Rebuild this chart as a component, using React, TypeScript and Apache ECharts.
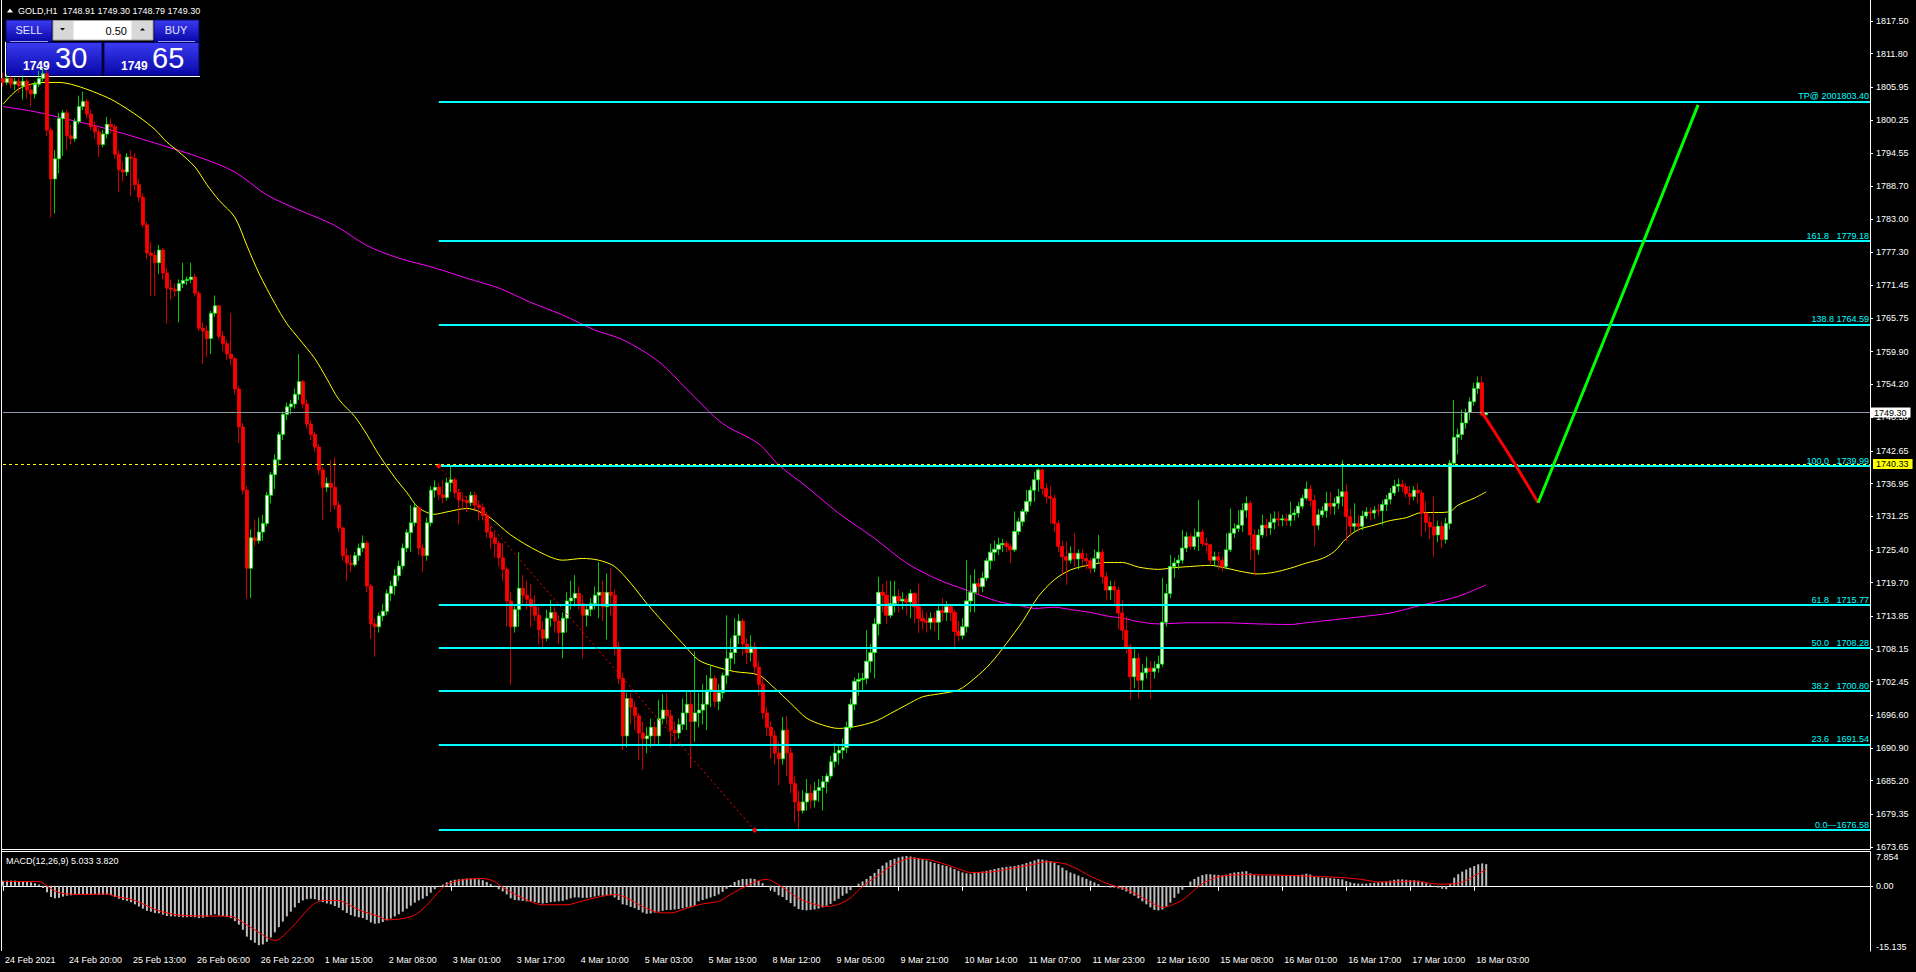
import React, { useEffect, useRef } from 'react';
import * as echarts from 'echarts';

const N_SLOTS = 468;
const FONT = "'Liberation Sans', Arial, sans-serif";

const timeLabels = ['24 Feb 2021', '24 Feb 20:00', '25 Feb 13:00', '26 Feb 06:00', '26 Feb 22:00', '1 Mar 15:00', '2 Mar 08:00', '3 Mar 01:00', '3 Mar 17:00', '4 Mar 10:00', '5 Mar 03:00', '5 Mar 19:00', '8 Mar 12:00', '9 Mar 05:00', '9 Mar 21:00', '10 Mar 14:00', '11 Mar 07:00', '11 Mar 23:00', '12 Mar 16:00', '15 Mar 08:00', '16 Mar 01:00', '16 Mar 17:00', '17 Mar 10:00', '18 Mar 03:00'];

const priceTicks = [1817.5, 1811.8, 1805.95, 1800.25, 1794.55, 1788.7, 1783.0, 1777.3, 1771.45, 1765.75, 1759.9, 1754.2, 1748.5, 1742.65, 1736.95, 1731.25, 1725.4, 1719.7, 1713.85, 1708.15, 1702.45, 1696.6, 1690.9, 1685.2, 1679.35, 1673.65];
const macdTicks = [-15.135, 0, 7.854];

// [open, close, low, high]
const candles = [
[1807.5,1806.8,1806.0,1808.5],[1806.8,1807.5,1806.3,1808.2],[1807.5,1806.5,1805.8,1807.9],[1806.5,1807.0,1805.5,1807.6],[1807.0,1806.2,1805.0,1807.5],[1806.2,1807.0,1803.8,1808.0],[1807.0,1805.5,1804.0,1807.5],[1805.5,1804.8,1802.6,1806.5],[1804.8,1806.5,1804.0,1807.0],[1806.5,1807.5,1806.0,1808.8],
[1807.5,1808.3,1807.0,1809.2],[1808.3,1798.5,1797.5,1808.8],[1798.5,1790.0,1783.3,1799.0],[1790.0,1793.5,1784.0,1795.0],[1793.5,1800.5,1791.0,1801.5],[1800.5,1801.5,1794.0,1802.0],[1801.5,1797.5,1795.0,1802.0],[1797.5,1797.0,1796.0,1799.5],[1797.0,1800.0,1796.5,1800.5],[1800.0,1802.6,1799.5,1804.5],
[1802.6,1803.5,1802.0,1805.2],[1803.5,1801.3,1800.5,1804.0],[1801.3,1799.1,1798.5,1802.0],[1799.1,1798.2,1797.0,1800.0],[1798.2,1796.0,1793.8,1798.8],[1796.0,1797.8,1795.5,1798.5],[1797.8,1799.5,1797.0,1800.8],[1799.5,1799.1,1798.0,1800.5],[1799.1,1794.3,1793.5,1799.5],[1794.3,1791.6,1787.7,1795.0],
[1791.6,1791.2,1789.5,1793.0],[1791.2,1793.8,1790.5,1794.5],[1793.8,1793.6,1787.0,1795.0],[1793.6,1789.0,1788.0,1794.5],[1789.0,1786.8,1786.0,1790.0],[1786.8,1782.0,1781.5,1787.5],[1782.0,1777.1,1776.0,1782.5],[1777.1,1776.7,1769.6,1779.0],[1776.7,1775.4,1769.6,1777.5],[1775.4,1777.6,1773.5,1778.5],
[1777.6,1773.6,1772.5,1778.0],[1773.6,1771.0,1764.8,1774.5],[1771.0,1770.8,1769.0,1772.5],[1770.8,1770.5,1769.5,1771.8],[1770.5,1771.8,1765.0,1772.5],[1771.8,1772.3,1771.0,1775.4],[1772.3,1772.5,1771.5,1773.0],[1772.5,1772.9,1771.8,1775.4],[1772.9,1770.1,1769.5,1773.5],[1770.1,1764.0,1763.5,1770.5],
[1764.0,1763.5,1757.8,1765.0],[1763.5,1762.2,1759.0,1764.5],[1762.2,1766.6,1759.5,1767.0],[1766.6,1767.9,1766.0,1769.7],[1767.9,1762.6,1762.0,1768.0],[1762.6,1761.3,1760.0,1763.5],[1761.3,1759.5,1758.5,1762.0],[1759.5,1758.7,1757.5,1766.6],[1758.7,1753.4,1752.5,1759.0],[1753.4,1746.8,1744.0,1754.0],
[1746.8,1735.8,1735.0,1747.5],[1735.8,1722.2,1716.9,1736.5],[1722.2,1727.5,1717.0,1729.0],[1727.5,1727.0,1726.0,1730.7],[1727.0,1728.5,1726.5,1731.0],[1728.5,1730.0,1727.0,1731.5],[1730.0,1734.9,1729.5,1735.5],[1734.9,1738.5,1733.5,1739.0],[1738.5,1741.1,1736.0,1742.0],[1741.1,1745.5,1740.0,1746.0],
[1745.5,1749.0,1744.5,1749.5],[1749.0,1750.3,1748.0,1751.0],[1750.3,1750.8,1749.0,1751.5],[1750.8,1752.5,1750.0,1753.5],[1752.5,1754.7,1751.5,1759.5],[1754.7,1750.8,1750.0,1755.0],[1750.8,1747.3,1746.5,1751.6],[1747.3,1745.5,1744.5,1748.0],[1745.5,1743.3,1742.5,1746.0],[1743.3,1739.3,1738.5,1743.8],
[1739.3,1736.3,1730.6,1739.8],[1736.3,1737.0,1735.5,1738.0],[1737.0,1736.3,1732.0,1741.0],[1736.3,1733.2,1732.5,1741.5],[1733.2,1729.2,1728.5,1733.8],[1729.2,1724.4,1723.5,1729.5],[1724.4,1723.1,1720.0,1725.7],[1723.1,1722.8,1721.5,1724.5],[1722.8,1724.4,1722.5,1725.0],[1724.4,1725.7,1723.5,1726.5],
[1725.7,1726.6,1725.0,1727.9],[1726.6,1719.1,1718.0,1727.0],[1719.1,1712.5,1709.9,1719.5],[1712.5,1712.0,1706.8,1713.5],[1712.0,1713.9,1711.0,1714.5],[1713.9,1714.7,1713.0,1716.0],[1714.7,1717.8,1714.0,1718.5],[1717.8,1719.1,1716.5,1720.0],[1719.1,1720.9,1717.5,1722.0],[1720.9,1722.6,1720.0,1723.5],
[1722.6,1725.7,1722.0,1726.5],[1725.7,1728.4,1725.0,1729.0],[1728.4,1730.1,1725.0,1733.2],[1730.1,1732.8,1729.5,1733.5],[1732.8,1725.7,1724.5,1733.0],[1725.7,1724.4,1721.5,1726.5],[1724.4,1730.1,1723.5,1731.0],[1730.1,1735.8,1729.5,1736.5],[1735.8,1736.3,1734.5,1737.5],[1736.3,1735.0,1734.0,1737.0],
[1735.0,1734.5,1733.5,1737.5],[1734.5,1737.1,1734.0,1738.0],[1737.1,1737.6,1735.5,1740.0],[1737.6,1735.4,1734.5,1738.0],[1735.4,1734.1,1729.8,1736.0],[1734.1,1734.0,1732.5,1735.0],[1734.0,1733.6,1732.0,1734.8],[1733.6,1734.9,1733.0,1735.5],[1734.9,1733.2,1732.5,1735.5],[1733.2,1732.8,1730.5,1734.0],
[1732.8,1731.4,1730.5,1733.5],[1731.4,1728.5,1727.5,1732.0],[1728.5,1727.5,1725.5,1729.5],[1727.5,1726.5,1724.0,1728.5],[1726.5,1724.0,1722.5,1727.0],[1724.0,1722.0,1720.0,1726.5],[1722.0,1716.5,1712.0,1722.5],[1716.5,1712.0,1701.9,1718.0],[1712.0,1715.0,1711.0,1716.0],[1715.0,1718.7,1712.0,1725.0],
[1718.7,1717.5,1716.0,1721.0],[1717.5,1716.8,1715.0,1720.0],[1716.8,1715.5,1712.0,1719.5],[1715.5,1714.0,1713.0,1717.5],[1714.0,1711.5,1709.0,1715.5],[1711.5,1710.0,1708.3,1713.0],[1710.0,1713.5,1709.5,1715.0],[1713.5,1714.5,1712.0,1716.7],[1714.5,1713.0,1711.0,1715.5],[1713.0,1711.0,1709.0,1714.0],
[1711.0,1713.5,1706.5,1714.5],[1713.5,1716.5,1711.0,1718.0],[1716.5,1717.0,1715.0,1720.0],[1717.0,1717.8,1715.5,1721.0],[1717.8,1716.0,1715.0,1719.0],[1716.0,1714.0,1706.5,1717.5],[1714.0,1715.0,1712.0,1716.0],[1715.0,1716.0,1713.8,1717.0],[1716.0,1717.5,1715.0,1719.0],[1717.5,1718.0,1713.5,1723.3],
[1718.0,1715.5,1713.0,1720.0],[1715.5,1718.0,1709.8,1721.3],[1718.0,1717.5,1714.0,1722.2],[1717.5,1708.5,1707.0,1718.5],[1708.5,1703.0,1702.0,1709.5],[1703.0,1693.0,1690.5,1704.0],[1693.0,1699.5,1691.0,1700.5],[1699.5,1698.0,1695.0,1700.5],[1698.0,1696.5,1694.0,1699.0],[1696.5,1693.5,1688.8,1697.0],
[1693.5,1692.5,1687.1,1695.5],[1692.5,1693.0,1690.0,1694.5],[1693.0,1694.5,1691.0,1696.0],[1694.5,1693.0,1691.5,1695.5],[1693.0,1696.0,1691.5,1699.3],[1696.0,1697.5,1695.0,1700.3],[1697.5,1696.5,1695.0,1700.3],[1696.5,1694.0,1691.0,1697.5],[1694.0,1693.5,1692.0,1695.5],[1693.5,1695.0,1692.5,1696.0],
[1695.0,1697.0,1694.0,1699.5],[1697.0,1698.5,1694.0,1700.7],[1698.5,1695.5,1687.4,1700.7],[1695.5,1697.0,1692.0,1707.7],[1697.0,1697.5,1694.5,1700.5],[1697.5,1698.5,1695.0,1702.0],[1698.5,1701.0,1694.0,1703.6],[1701.0,1703.0,1698.0,1705.3],[1703.0,1699.0,1698.0,1703.5],[1699.0,1700.5,1697.5,1702.0],
[1700.5,1703.5,1699.5,1704.0],[1703.5,1706.5,1702.0,1714.0],[1706.5,1707.5,1704.5,1710.0],[1707.5,1710.5,1705.5,1713.5],[1710.5,1713.0,1709.0,1714.2],[1713.0,1709.0,1707.0,1713.5],[1709.0,1707.5,1705.5,1710.0],[1707.5,1708.5,1706.0,1710.5],[1708.5,1705.0,1703.8,1709.3],[1705.0,1702.0,1700.0,1706.0],
[1702.0,1697.0,1696.0,1703.0],[1697.0,1694.5,1693.0,1698.0],[1694.5,1693.0,1689.0,1695.5],[1693.0,1690.0,1688.0,1694.0],[1690.0,1689.0,1684.4,1692.0],[1689.0,1694.0,1688.0,1696.3],[1694.0,1690.0,1686.0,1696.5],[1690.0,1684.7,1683.0,1691.0],[1684.7,1681.5,1678.0,1686.0],[1681.5,1680.0,1676.6,1683.5],
[1680.0,1681.5,1679.5,1683.5],[1681.5,1683.0,1680.0,1685.5],[1683.0,1681.8,1680.3,1684.5],[1681.8,1683.5,1680.5,1685.0],[1683.5,1684.0,1681.5,1685.5],[1684.0,1685.0,1680.0,1686.0],[1685.0,1686.0,1683.0,1686.5],[1686.0,1688.5,1685.5,1689.5],[1688.5,1690.0,1687.5,1691.7],[1690.0,1690.5,1688.0,1691.5],
[1690.5,1691.0,1689.0,1692.5],[1691.0,1694.5,1690.0,1695.5],[1694.5,1698.5,1694.0,1699.5],[1698.5,1702.5,1697.5,1703.2],[1702.5,1702.8,1700.0,1704.0],[1702.8,1703.0,1701.0,1704.0],[1703.0,1706.0,1702.0,1711.4],[1706.0,1707.5,1704.0,1709.0],[1707.5,1712.5,1703.0,1713.5],[1712.5,1718.0,1710.5,1720.7],
[1718.0,1717.5,1714.5,1719.5],[1717.5,1714.0,1712.5,1720.0],[1714.0,1716.0,1713.5,1720.0],[1716.0,1717.3,1714.5,1720.0],[1717.3,1716.5,1714.5,1718.5],[1716.5,1716.8,1715.0,1718.0],[1716.8,1716.3,1714.0,1717.5],[1716.3,1717.8,1713.5,1718.5],[1717.8,1715.5,1712.6,1718.0],[1715.5,1713.5,1710.9,1719.6],
[1713.5,1713.0,1711.5,1715.0],[1713.0,1712.8,1711.0,1714.5],[1712.8,1713.5,1711.5,1714.5],[1713.5,1712.8,1711.2,1714.5],[1712.8,1714.8,1709.7,1716.0],[1714.8,1714.5,1713.0,1717.0],[1714.5,1715.5,1713.0,1716.5],[1715.5,1714.5,1713.0,1716.0],[1714.5,1711.2,1708.0,1715.0],[1711.2,1710.5,1709.5,1713.0],
[1710.5,1712.0,1709.8,1713.5],[1712.0,1716.5,1711.0,1723.6],[1716.5,1718.0,1714.5,1721.0],[1718.0,1719.5,1714.5,1722.0],[1719.5,1719.0,1717.5,1720.5],[1719.0,1720.5,1718.0,1721.5],[1720.5,1723.5,1720.0,1724.0],[1723.5,1725.0,1722.0,1726.5],[1725.0,1725.5,1723.5,1727.0],[1725.5,1726.3,1724.5,1727.5],
[1726.3,1726.5,1725.0,1727.3],[1726.5,1726.0,1725.0,1727.0],[1726.0,1725.4,1723.1,1726.5],[1725.4,1728.6,1725.0,1732.1],[1728.6,1730.3,1728.0,1731.0],[1730.3,1732.1,1729.5,1732.5],[1732.1,1733.8,1731.5,1735.8],[1733.8,1735.8,1733.0,1736.5],[1735.8,1737.6,1733.8,1739.0],[1737.6,1739.3,1735.5,1739.6],
[1739.3,1736.1,1735.0,1739.6],[1736.1,1734.7,1733.5,1737.0],[1734.7,1734.4,1730.0,1736.5],[1734.4,1730.0,1728.5,1735.0],[1730.0,1726.0,1725.0,1730.5],[1726.0,1724.2,1721.0,1727.0],[1724.2,1723.6,1719.3,1726.8],[1723.6,1724.8,1723.0,1726.0],[1724.8,1723.8,1722.5,1728.3],[1723.8,1724.8,1722.0,1725.5],
[1724.8,1723.9,1722.5,1725.5],[1723.9,1723.5,1722.0,1724.8],[1723.5,1722.2,1721.3,1724.0],[1722.2,1723.9,1721.5,1725.5],[1723.9,1725.0,1723.0,1728.0],[1725.0,1720.7,1719.5,1725.5],[1720.7,1718.4,1716.7,1721.5],[1718.4,1719.0,1716.7,1720.0],[1719.0,1718.4,1716.0,1720.0],[1718.4,1714.4,1711.5,1719.0],
[1714.4,1711.4,1709.7,1716.7],[1711.4,1708.5,1707.4,1713.8],[1708.5,1703.3,1699.3,1709.0],[1703.3,1706.5,1701.3,1708.5],[1706.5,1702.7,1699.5,1707.4],[1702.7,1704.0,1701.0,1705.5],[1704.0,1704.8,1703.0,1706.8],[1704.8,1704.2,1699.5,1706.0],[1704.2,1704.8,1703.0,1706.0],[1704.8,1705.5,1704.0,1707.0],
[1705.5,1712.8,1705.0,1720.5],[1712.8,1717.8,1712.0,1719.5],[1717.8,1722.5,1717.0,1724.5],[1722.5,1723.1,1720.5,1724.0],[1723.1,1723.6,1722.0,1724.5],[1723.6,1725.7,1723.0,1728.9],[1725.7,1727.7,1725.0,1728.5],[1727.7,1726.0,1725.5,1728.3],[1726.0,1727.7,1725.4,1729.1],[1727.7,1728.5,1725.2,1734.1],
[1728.5,1726.5,1726.0,1729.0],[1726.5,1726.3,1724.8,1727.5],[1726.3,1723.6,1723.0,1726.5],[1723.6,1724.2,1722.5,1725.1],[1724.2,1723.6,1722.0,1725.0],[1723.6,1722.5,1721.6,1724.2],[1722.5,1725.4,1722.0,1728.3],[1725.4,1728.3,1725.0,1732.6],[1728.3,1729.1,1727.5,1730.0],[1729.1,1729.7,1728.5,1732.3],
[1729.7,1732.3,1728.5,1733.5],[1732.3,1733.5,1731.0,1734.7],[1733.5,1728.0,1723.6,1734.0],[1728.0,1725.4,1721.0,1729.0],[1725.4,1728.0,1724.5,1729.0],[1728.0,1729.7,1727.5,1731.5],[1729.7,1729.2,1727.7,1730.8],[1729.2,1730.2,1728.0,1731.7],[1730.2,1730.8,1729.0,1732.1],[1730.8,1730.6,1729.5,1732.1],
[1730.6,1730.8,1729.5,1731.5],[1730.8,1730.5,1729.6,1731.7],[1730.5,1731.5,1729.5,1733.8],[1731.5,1731.8,1730.5,1732.5],[1731.8,1733.0,1731.0,1733.8],[1733.0,1734.4,1732.5,1735.0],[1734.4,1736.0,1734.0,1737.3],[1736.0,1734.0,1733.0,1736.7],[1734.0,1729.7,1726.0,1735.0],[1729.7,1731.5,1728.9,1732.5],
[1731.5,1732.2,1731.0,1733.0],[1732.2,1733.5,1731.0,1735.5],[1733.5,1733.0,1731.5,1735.5],[1733.0,1733.5,1731.5,1734.5],[1733.5,1734.7,1732.5,1736.0],[1734.7,1735.5,1733.0,1741.0],[1735.5,1731.2,1726.8,1736.8],[1731.2,1729.5,1728.0,1732.5],[1729.5,1730.0,1728.5,1733.5],[1730.0,1729.5,1728.6,1731.5],
[1729.5,1731.3,1728.8,1732.2],[1731.3,1732.0,1730.8,1732.8],[1732.0,1731.8,1730.5,1732.8],[1731.8,1732.3,1730.8,1733.0],[1732.3,1732.2,1731.2,1733.4],[1732.2,1733.3,1729.7,1734.0],[1733.3,1734.2,1732.2,1735.0],[1734.2,1735.3,1733.3,1736.2],[1735.3,1736.5,1734.8,1737.6],[1736.5,1736.8,1735.5,1737.8],
[1736.8,1736.4,1735.5,1737.6],[1736.4,1735.2,1734.5,1737.0],[1735.2,1734.7,1733.2,1736.5],[1734.7,1735.8,1734.0,1736.5],[1735.8,1735.3,1733.5,1737.0],[1735.3,1731.8,1727.7,1735.8],[1731.8,1730.2,1728.5,1733.8],[1730.2,1729.4,1727.3,1731.2],[1729.4,1728.0,1724.2,1734.7],[1728.0,1729.5,1726.7,1730.5],
[1729.5,1727.2,1725.7,1730.3],[1727.2,1730.0,1726.5,1731.0],[1730.0,1740.5,1729.0,1741.0],[1740.5,1745.0,1740.0,1751.5],[1745.0,1745.5,1742.0,1746.5],[1745.5,1747.5,1744.5,1749.8],[1747.5,1749.3,1746.5,1750.0],[1749.3,1751.2,1748.0,1752.0],[1751.2,1753.5,1750.5,1754.5],[1753.5,1754.5,1752.5,1755.6],
[1754.5,1748.9,1748.6,1755.6],[1748.91,1749.30,1748.79,1749.30]
];

// [bar index, value] read along the moving averages
const yellowMA = [[0,1803.0],[4,1805.7],[10,1806.8],[14,1806.8],[18,1806.3],[24,1804.8],[28,1803.5],[34,1800.8],[38,1798.6],[41,1796.4],[44,1794.7],[48,1792.1],[51,1789.0],[54,1786.3],[58,1783.3],[61,1778.4],[64,1773.6],[68,1768.3],[71,1764.8],[74,1762.2],[78,1758.7],[81,1755.2],[84,1751.6],[88,1748.6],[91,1745.5],[94,1742.0],[98,1738.0],[101,1735.4],[104,1732.7],[108,1731.6],[111,1732.0],[116,1732.6],[119,1732.1],[122,1730.9],[127,1728.0],[134,1725.1],[140,1723.6],[145,1723.9],[149,1723.6],[153,1722.5],[157,1719.6],[161,1716.1],[165,1712.9],[170,1709.1],[174,1706.2],[178,1705.1],[183,1704.2],[189,1703.6],[193,1701.3],[197,1698.7],[201,1696.1],[205,1694.9],[209,1694.3],[213,1694.6],[218,1695.5],[222,1696.9],[226,1698.4],[230,1699.8],[234,1700.3],[239,1701.0],[243,1703.0],[247,1705.6],[251,1709.1],[255,1712.9],[259,1717.3],[263,1720.2],[267,1721.9],[272,1722.8],[276,1723.2],[280,1723.2],[284,1722.4],[289,1722.0],[293,1722.3],[297,1722.5],[302,1722.7],[306,1722.2],[310,1721.6],[314,1721.2],[318,1721.5],[322,1722.2],[326,1723.1],[330,1723.9],[333,1725.1],[336,1727.4],[339,1728.9],[343,1729.7],[347,1730.5],[351,1731.0],[355,1731.9],[359,1731.9],[362,1732.1],[364,1733.2],[368,1734.4],[371,1735.5]];

const magentaMA = [[0,1802.6],[8,1801.7],[16,1800.4],[24,1799.1],[33,1797.3],[41,1795.6],[49,1793.8],[58,1791.2],[66,1787.2],[74,1784.6],[83,1781.9],[91,1778.4],[99,1776.2],[108,1774.5],[116,1772.7],[124,1771.0],[132,1768.5],[140,1766.3],[148,1763.7],[155,1762.0],[164,1758.2],[172,1752.7],[180,1747.4],[189,1743.9],[194,1740.2],[201,1736.4],[209,1731.8],[218,1727.4],[226,1723.1],[234,1720.2],[241,1718.4],[249,1716.4],[255,1715.6],[258,1715.2],[263,1715.4],[267,1715.0],[272,1714.5],[276,1713.9],[280,1713.5],[284,1712.9],[289,1712.5],[297,1712.7],[305,1712.7],[314,1712.5],[322,1712.4],[326,1712.7],[330,1713.0],[339,1713.7],[347,1714.4],[355,1715.8],[359,1716.4],[364,1717.3],[368,1718.4],[371,1719.3]];

const macdHist = [
1.2,1.2,1.2,1.2,1.1,1.1,1.0,0.8,0.6,0.3,
-0.5,-1.5,-2.6,-2.9,-2.8,-2.5,-2.3,-2.2,-2.1,-2.0,
-1.9,-1.9,-2.0,-2.0,-2.1,-2.1,-2.0,-2.2,-2.6,-3.0,
-3.3,-3.5,-3.8,-4.3,-4.8,-5.3,-5.8,-6.0,-6.3,-6.4,
-6.7,-7.0,-7.1,-7.1,-7.2,-7.3,-7.3,-7.2,-7.3,-7.5,
-7.4,-7.2,-6.8,-6.6,-6.9,-7.0,-7.2,-7.5,-8.2,-9.0,
-10.2,-11.8,-12.6,-13.2,-13.8,-13.6,-13.0,-12.0,-10.8,-9.6,
-8.3,-7.1,-6.0,-5.0,-4.0,-3.4,-3.1,-3.0,-3.1,-3.4,
-3.8,-4.1,-4.3,-4.7,-5.1,-5.7,-6.3,-6.8,-7.1,-7.3,
-7.5,-7.9,-8.5,-8.8,-8.7,-8.4,-8.0,-7.6,-7.1,-6.6,
-6.0,-5.3,-4.6,-3.9,-3.4,-3.0,-2.4,-1.6,-0.8,-0.2,
0.3,0.8,1.2,1.4,1.5,1.6,1.7,1.7,1.6,1.5,
1.3,0.9,0.4,-0.2,-0.8,-1.3,-2.0,-2.9,-3.3,-3.4,
-3.5,-3.6,-3.7,-3.8,-4.0,-4.1,-4.0,-3.8,-3.7,-3.6,
-3.5,-3.2,-2.9,-2.7,-2.7,-2.8,-2.8,-2.7,-2.5,-2.3,
-2.3,-2.2,-2.2,-2.7,-3.3,-4.3,-4.5,-4.9,-5.2,-5.6,
-6.2,-6.5,-6.4,-6.2,-6.0,-5.8,-5.6,-5.6,-5.5,-5.4,
-5.2,-5.0,-4.9,-4.6,-3.6,-3.3,-3.0,-2.7,-2.4,-2.0,
-1.4,-0.7,0.2,0.9,1.3,1.6,1.6,1.7,1.6,1.1,
0.6,-0.1,-0.8,-1.4,-2.2,-2.6,-3.3,-4.0,-4.8,-5.4,
-5.6,-5.7,-5.6,-5.5,-5.3,-5.0,-4.6,-4.2,-3.5,-3.0,
-2.3,-1.8,-1.0,0.0,0.5,1.0,1.6,2.3,3.0,3.9,
4.7,5.4,6.0,6.3,6.6,6.8,6.9,6.8,6.6,6.4,
6.2,5.9,5.6,5.3,5.1,4.8,4.6,4.3,3.9,3.5,
3.1,2.9,2.8,3.0,3.2,3.3,3.5,3.7,3.9,4.1,
4.3,4.4,4.5,4.6,4.8,5.0,5.3,5.6,5.9,6.2,
6.1,5.9,5.7,5.3,4.8,4.2,3.6,3.1,2.8,2.4,
2.0,1.6,1.2,0.8,0.4,0.0,-0.3,-0.4,-0.4,-0.6,
-0.9,-1.3,-1.8,-2.3,-2.9,-3.6,-4.3,-5.0,-5.6,-5.7,
-5.5,-4.8,-3.9,-2.8,-1.8,-0.9,0.0,1.0,1.6,2.1,
2.5,2.7,2.7,2.6,2.5,2.4,2.6,2.9,3.1,3.2,
3.3,3.4,2.9,2.5,2.4,2.4,2.4,2.4,2.4,2.4,
2.3,2.3,2.3,2.4,2.5,2.6,2.8,2.6,2.1,2.0,
1.9,1.9,1.8,1.7,1.6,1.5,1.1,0.8,0.6,0.5,
0.5,0.5,0.6,0.7,0.8,0.9,1.0,1.2,1.4,1.5,
1.5,1.4,1.3,1.3,1.2,0.9,0.6,0.3,-0.2,-0.4,
-0.7,-0.8,0.5,1.9,2.7,3.3,3.8,4.2,4.6,5.0,
5.2,5.033
];

const macdSignal = [[0,1.0],[9,1.0],[11,0.0],[13,-1.2],[16,-1.9],[20,-2.0],[26,-1.9],[28,-2.4],[33,-3.4],[38,-5.5],[41,-6.3],[44,-6.8],[50,-7.0],[57,-7.1],[60,-8.5],[64,-10.8],[68,-12.7],[72,-9.9],[77,-4.8],[80,-3.4],[84,-3.4],[87,-4.6],[89,-5.6],[94,-7.1],[96,-7.9],[100,-7.6],[103,-6.8],[106,-4.5],[108,-2.4],[111,0.3],[115,1.4],[120,1.7],[123,1.0],[125,-0.4],[129,-2.4],[135,-4.4],[141,-4.4],[145,-3.5],[149,-2.6],[153,-2.0],[156,-2.8],[160,-4.8],[164,-6.2],[167,-6.3],[171,-5.2],[175,-4.2],[179,-3.6],[182,-2.0],[186,0.0],[189,1.2],[191,1.5],[193,0.8],[196,-1.0],[199,-2.9],[203,-4.3],[206,-4.8],[209,-4.3],[212,-2.8],[214,-1.0],[216,0.6],[219,2.5],[221,3.9],[224,5.5],[227,6.4],[230,6.2],[232,6.0],[235,5.2],[237,4.6],[240,3.6],[242,3.1],[247,3.2],[251,3.8],[255,4.5],[258,5.0],[261,5.6],[264,5.4],[266,5.0],[269,3.8],[271,2.7],[274,1.4],[276,0.6],[279,-0.3],[281,-0.8],[284,-2.2],[288,-4.3],[290,-5.0],[292,-4.6],[295,-3.3],[298,-1.0],[300,0.5],[303,1.8],[305,2.3],[311,2.6],[318,2.5],[325,2.3],[331,2.1],[338,1.7],[341,1.3],[344,0.9],[349,0.9],[352,1.1],[355,0.9],[359,0.4],[364,0.6],[368,2.3],[371,3.82]];

const fibLevels = [1803.40, 1779.18, 1764.59, 1739.99, 1715.77, 1708.28, 1700.80, 1691.54, 1676.58];
const fibLabels = ['TP@ 2001803.40', '161.8   1779.18', '138.8 1764.59', '100.0   1739.99', '61.8   1715.77', '50.0   1708.28', '38.2   1700.80', '23.6   1691.54', '0.0\u20141676.58'];
const fibStartIndex = 109;
const fibBase = [[109, 1739.99], [188, 1676.58]];
const projRed = [[370, 1749.3], [377, 1741.7], [384, 1733.6]];
const projGreen = [[384, 1733.6], [404, 1768.0], [424, 1802.9]];
const bidPrice = 1749.30;
const hLinePrice = 1740.33;

const cats = Array.from({ length: N_SLOTS }, (_, i) => String(i));
const tickInterval = (idx: number) => idx % 16 === 0 && idx / 16 < timeLabels.length;

function blueGrad() {
  return new echarts.graphic.LinearGradient(0, 0, 0, 1, [
    { offset: 0, color: '#3b3bf2' },
    { offset: 1, color: '#0707a6' },
  ]);
}

function buildOption(): any {
  const fibLines = fibLevels.map((v, k) => [
    { coord: [fibStartIndex, v], label: { formatter: fibLabels[k] } },
    { coord: [N_SLOTS - 1, v] },
  ]);
  const txt = (text: string, x: number, y: number, extra: any = {}) => ({
    type: 'text', silent: true,
    style: { text, x, y, fill: '#ffffff', fontSize: 9, fontFamily: FONT, verticalAlign: 'middle', ...extra },
  });
  const ln = (x1: number, y1: number, x2: number, y2: number, stroke = '#ffffff') => ({
    type: 'line', silent: true, shape: { x1, y1, x2, y2 }, style: { stroke, lineWidth: 1 },
  });
  return {
    animation: false,
    backgroundColor: '#000000',
    grid: [
      { left: 3, right: 46, top: 0, height: 849 },
      { left: 3, right: 46, top: 852, height: 99 },
    ],
    xAxis: [
      { type: 'category', gridIndex: 0, data: cats, boundaryGap: false, axisLine: { show: false }, axisTick: { show: false }, axisLabel: { show: false }, splitLine: { show: false } },
      {
        type: 'category', gridIndex: 1, data: cats, boundaryGap: false,
        axisLine: { show: true, lineStyle: { color: '#ffffff', width: 1 } },
        axisTick: { show: true, interval: tickInterval, length: 5, lineStyle: { color: '#ffffff' } },
        axisLabel: { show: true, interval: tickInterval, formatter: (_v: string, idx: number) => timeLabels[idx / 16] ?? '', color: '#ffffff', fontSize: 9, fontFamily: FONT, align: 'left', margin: 4, padding: [0, 0, 0, 2] },
        splitLine: { show: false },
      },
    ],
    yAxis: [
      {
        type: 'value', gridIndex: 0, position: 'right', min: 1673.302, max: 1821.157,
        splitLine: { show: false },
        axisLine: { show: true, lineStyle: { color: '#ffffff', width: 1 } },
        axisTick: { show: true, customValues: priceTicks, length: 3, lineStyle: { color: '#ffffff' } },
        axisLabel: { customValues: priceTicks, formatter: (v: number) => v.toFixed(2), color: '#ffffff', fontSize: 9, fontFamily: FONT, margin: 6 },
      },
      {
        type: 'value', gridIndex: 1, position: 'right', min: -15.135, max: 7.854,
        splitLine: { show: false },
        axisLine: { show: true, lineStyle: { color: '#ffffff', width: 1 } },
        axisTick: { show: true, customValues: [0], length: 3, lineStyle: { color: '#ffffff' } },
        axisLabel: {
          customValues: macdTicks, formatter: (v: number) => (v === 0 ? '0.00' : v.toFixed(3)),
          color: '#ffffff', fontSize: 9, fontFamily: FONT, margin: 6,
          verticalAlignMaxLabel: 'top', verticalAlignMinLabel: 'bottom',
        },
      },
    ],
    series: [
      {
        type: 'line', name: 'MA slow', xAxisIndex: 0, yAxisIndex: 0, data: magentaMA, symbol: 'none', smooth: 0.3,
        lineStyle: { color: '#ff00ff', width: 1 }, silent: true, z: 1,
      },
      {
        type: 'line', name: 'MA fast', xAxisIndex: 0, yAxisIndex: 0, data: yellowMA, symbol: 'none', smooth: 0.3,
        lineStyle: { color: '#ffff00', width: 1 }, silent: true, z: 1,
      },
      {
        type: 'candlestick', name: 'GOLD,H1', xAxisIndex: 0, yAxisIndex: 0, data: candles, barWidth: 3.6, clip: false, silent: true,
        itemStyle: { color: '#ffffff', color0: '#ff0000', borderColor: '#00ff00', borderColor0: '#ff0000', borderWidth: 0.8 },
        markLine: {
          silent: true, symbol: ['none', 'none'], animation: false,
          lineStyle: { color: '#00ffff', width: 2, type: 'solid' },
          label: { show: true, position: 'insideEndTop', color: '#00ffff', fontSize: 9, fontFamily: FONT, distance: [1, 1] },
          data: [
            ...fibLines,
            [
              { coord: fibBase[0], symbol: 'rect', symbolSize: 4, lineStyle: { color: '#ff0000', width: 1, type: [2, 3] }, label: { show: false } },
              { coord: fibBase[1], symbol: 'rect', symbolSize: 4 },
            ],
            {
              yAxis: bidPrice, lineStyle: { color: '#8a96a3', width: 1, type: 'solid' },
              label: { show: true, position: 'end', formatter: '1749.30', color: '#000000', backgroundColor: '#ffffff', padding: [1, 4, 0, 3], distance: 1, fontSize: 9 },
            },
            {
              yAxis: hLinePrice, lineStyle: { color: '#ffff00', width: 1, type: [3, 3] },
              label: { show: true, position: 'end', formatter: '1740.33', color: '#000000', backgroundColor: '#ffff00', padding: [1, 4, 0, 3], distance: 3, fontSize: 9 },
            },
          ],
        },
      },
      {
        type: 'line', name: 'proj down', xAxisIndex: 0, yAxisIndex: 0,
        data: projRed.map((p, k) => (k === 0 ? { value: p, symbol: 'none' } : p)),
        symbol: 'rect', symbolSize: 5, showSymbol: true, silent: true,
        lineStyle: { color: '#ff0000', width: 3 }, itemStyle: { color: '#ff0000' }, z: 5,
      },
      {
        type: 'line', name: 'proj up', xAxisIndex: 0, yAxisIndex: 0, data: projGreen,
        symbol: 'rect', symbolSize: 5, showSymbol: true, silent: true,
        lineStyle: { color: '#00ff00', width: 3 }, itemStyle: { color: '#00ff00' }, z: 5,
      },
      {
        type: 'bar', name: 'MACD', xAxisIndex: 1, yAxisIndex: 1, data: macdHist, barWidth: 2, silent: true,
        itemStyle: { color: '#c0c0c0' },
      },
      {
        type: 'line', name: 'Signal', xAxisIndex: 1, yAxisIndex: 1, data: macdSignal, symbol: 'none', smooth: 0.3, silent: true,
        lineStyle: { color: '#ff0000', width: 1 }, z: 5,
      },
    ],
    graphic: [
      ln(1.5, 0, 1.5, 951),
      ln(1.5, 849.5, 1870.5, 849.5),
      ln(1.5, 851.5, 1870.5, 851.5),
      // title
      { type: 'polygon', silent: true, shape: { points: [[7, 12.5], [10, 8.5], [13, 12.5]] }, style: { fill: '#ffffff' } },
      txt('GOLD,H1  1748.91 1749.30 1748.79 1749.30', 18, 10.5),
      txt('MACD(12,26,9) 5.033 3.820', 6, 861),
      // one-click trading panel
      { type: 'rect', silent: true, shape: { x: 6, y: 20, width: 46, height: 22 }, style: { fill: blueGrad(), stroke: '#06066a', lineWidth: 1 } },
      { type: 'rect', silent: true, shape: { x: 154, y: 20, width: 45, height: 22 }, style: { fill: blueGrad(), stroke: '#06066a', lineWidth: 1 } },
      { type: 'rect', silent: true, shape: { x: 53, y: 20.5, width: 100, height: 19.5 }, style: { fill: '#d8d8d8', stroke: '#a0a0a0', lineWidth: 1 } },
      { type: 'rect', silent: true, shape: { x: 73.5, y: 21, width: 58, height: 18.5 }, style: { fill: '#ffffff' } },
      { type: 'polygon', silent: true, shape: { points: [[60, 28], [65, 28], [62.5, 30.5]] }, style: { fill: '#000000' } },
      { type: 'polygon', silent: true, shape: { points: [[140, 30.5], [145, 30.5], [142.5, 28]] }, style: { fill: '#000000' } },
      txt('0.50', 127, 30.5, { fill: '#000000', fontSize: 11, align: 'right' }),
      txt('SELL', 29, 30, { fill: '#e4e4ff', fontSize: 11, align: 'center' }),
      txt('BUY', 176, 30, { fill: '#e4e4ff', fontSize: 11, align: 'center' }),
      ln(10, 41.5, 48, 41.5, '#9a9ae8'),
      ln(158, 41.5, 195, 41.5, '#9a9ae8'),
      { type: 'rect', silent: true, shape: { x: 6, y: 42.5, width: 96, height: 33 }, style: { fill: blueGrad(), stroke: '#06066a', lineWidth: 1 } },
      { type: 'rect', silent: true, shape: { x: 104, y: 42.5, width: 95, height: 33 }, style: { fill: blueGrad(), stroke: '#06066a', lineWidth: 1 } },
      ln(5.5, 42, 5.5, 76.5),
      ln(5.5, 76.5, 200, 76.5),
      txt('1749', 23, 65.5, { fontSize: 12, fontWeight: 'bold' }),
      txt('30', 55, 58, { fontSize: 29 }),
      txt('1749', 121, 65.5, { fontSize: 12, fontWeight: 'bold' }),
      txt('65', 152, 58, { fontSize: 29 }),
    ],
  };
}

export default function App() {
  const ref = useRef<HTMLDivElement>(null);
  useEffect(() => {
    if (!ref.current) return;
    const chart = echarts.init(ref.current, null, { renderer: 'svg' });
    chart.setOption(buildOption());
    return () => chart.dispose();
  }, []);
  return (
    <div
      ref={ref}
      style={{ position: 'fixed', left: 0, top: 0, width: 1916, height: 972, background: '#000000' }}
    />
  );
}
